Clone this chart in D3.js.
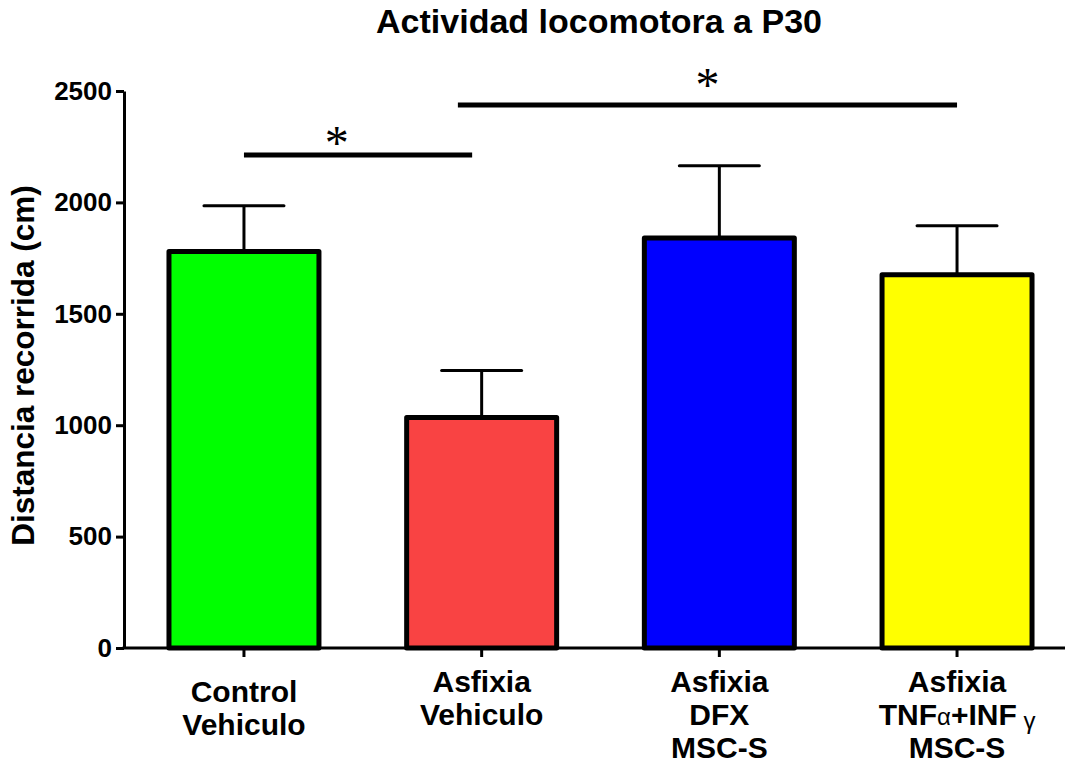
<!DOCTYPE html>
<html>
<head>
<meta charset="utf-8">
<script src="https://cdn.jsdelivr.net/npm/d3@7"></script>
<style>
  body { margin: 0; background: #fff; }
  svg text { font-family: "Liberation Sans", Arial, sans-serif; font-weight: bold; fill: #000; }
  .axis path, .axis line { stroke: #000; stroke-width: 3; }
  .axis text { font-size: 26px; }
</style>
</head>
<body>
<div id="chart"></div>
<script>
// Data
var groups = ["ctrl", "asf", "dfx", "tnf"];
var groupLabels = [
  ["Control", "Vehiculo"],
  ["Asfixia", "Vehiculo"],
  ["Asfixia", "DFX", "MSC-S"],
  ["Asfixia", "TNF\u03b1+INF \u03b3", "MSC-S"]
];
var means = [1780, 1035, 1840, 1675];
var sems = [205, 210, 325, 220];
var barColors = ["#00ff00", "#f94343", "#0000ff", "#ffff00"];
var yTicks = [0, 500, 1000, 1500, 2000, 2500];

// significance bars: from / to / star x in category units, y in cm
var sigFrom = [0, 0.9];
var sigTo = [0.96, 3];
var sigY = [2213, 2437];
var sigStarX = [0.39, 1.95];
var sigStarY = [2300, 2563];

var W = 1065, H = 766;

var svg = d3.select("#chart").append("svg")
  .attr("width", W).attr("height", H);

// Scales
var x = d3.scaleBand()
  .domain(groups)
  .range([125, 1076])
  .paddingInner(0.369)
  .paddingOuter(0.185);

var y = d3.scaleLinear().domain([0, 2500]).range([648, 91]);

// x position in category units (0 = centre of first group)
var xc = d3.scaleLinear()
  .domain([0, 1])
  .range([x(groups[0]) + x.bandwidth() / 2, x(groups[1]) + x.bandwidth() / 2]);

//Bars
var bars = groups.map(function(g, i) { return {g: g, mean: means[i], sem: sems[i], color: barColors[i]}; });

// error bars (drawn first so the bar's outline sits on top)
var err = svg.selectAll("g.err").data(bars).enter().append("g").attr("class", "err");
err.append("line")
  .attr("x1", function(d) { return x(d.g) + x.bandwidth() / 2; })
  .attr("x2", function(d) { return x(d.g) + x.bandwidth() / 2; })
  .attr("y1", function(d) { return y(d.mean); })
  .attr("y2", function(d) { return y(d.mean + d.sem); })
  .attr("stroke", "#000").attr("stroke-width", 3);
err.append("line")
  .attr("x1", function(d) { return x(d.g) + x.bandwidth() / 2 - 40; })
  .attr("x2", function(d) { return x(d.g) + x.bandwidth() / 2 + 40; })
  .attr("y1", function(d) { return y(d.mean + d.sem); })
  .attr("y2", function(d) { return y(d.mean + d.sem); })
  .attr("stroke", "#000").attr("stroke-width", 3).attr("stroke-linecap", "round");

svg.selectAll("rect.bar").data(bars).enter().append("rect")
  .attr("class", "bar")
  .attr("x", function(d) { return x(d.g); })
  .attr("width", x.bandwidth())
  .attr("y", function(d) { return y(d.mean); })
  .attr("height", function(d) { return y(0) - y(d.mean); })
  .attr("fill", function(d) { return d.color; })
  .attr("stroke", "#000")
  .attr("stroke-width", 5)
  .attr("stroke-linejoin", "round");

//Axes
var yAxis = d3.axisLeft(y).tickValues(yTicks).tickFormat(d3.format("d"))
  .tickSize(8).tickPadding(4).tickSizeOuter(0);
svg.append("g")
  .attr("class", "axis y-axis")
  .attr("transform", "translate(124,0)")
  .call(yAxis);

var xAxis = d3.axisBottom(x).tickSize(9).tickSizeOuter(0).tickFormat("");
svg.append("g")
  .attr("class", "axis x-axis")
  .attr("transform", "translate(0,648)")
  .call(xAxis);
// axis line runs from the y axis to the right edge
svg.select(".x-axis path.domain").attr("d", "M" + (124 - 1.5) + ",0H" + W);

// category labels
var lab = svg.selectAll("text.xlab").data(groupLabels).enter().append("text")
  .attr("class", "xlab")
  .attr("text-anchor", "middle")
  .style("font-size", "30px")
  .attr("transform", function(d, i) {
    return "translate(" + (x(groups[i]) + x.bandwidth() / 2) + "," + (i === 0 ? 702 : 692) + ")";
  });

lab.each(function(lines) {
  var t = d3.select(this);
  lines.forEach(function(s, j) {
    var ts = t.append("tspan").attr("x", 0).attr("y", j * 33);
    if (s.indexOf("\u03b1") >= 0) {
      // greek letters set smaller and not bold, as in the original
      var parts = s.split(/(\u03b1| \u03b3)/);
      parts.forEach(function(p) {
        if (p === "") return;
        var sp = ts.append("tspan").text(p);
        if (p === "\u03b1") sp.style("font-size", "24px").style("font-weight", "normal");
        if (p === " \u03b3") sp.style("font-size", "24px").style("font-weight", "normal").attr("dy", 4);
      });
    } else {
      ts.text(s);
    }
  });
});

//Y label
svg.append("text")
  .attr("text-anchor", "middle")
  .style("font-size", "31.5px")
  .attr("transform", "translate(34," + ((y(0) + y(2500)) / 2 - 4) + ") rotate(-90)")
  .text("Distancia recorrida (cm)");

//Title
svg.append("text")
  .attr("x", 599).attr("y", 33)
  .attr("text-anchor", "middle")
  .style("font-size", "34px")
  .text("Actividad locomotora a P30");

//Significance lines and stars
sigY.forEach(function(v, i) {
  svg.append("line")
    .attr("x1", xc(sigFrom[i])).attr("x2", xc(sigTo[i]))
    .attr("y1", y(v)).attr("y2", y(v))
    .attr("stroke", "#000").attr("stroke-width", 5);
  svg.append("text")
    .attr("x", xc(sigStarX[i]))
    .attr("y", y(sigStarY[i]))
    .attr("text-anchor", "middle")
    .attr("dominant-baseline", "central")
    .style("font-family", "'Liberation Serif', 'Times New Roman', serif")
    .style("font-weight", "normal")
    .style("font-size", "48px")
    .attr("dy", "0.15em")
    .text("*");
});
</script>
</body>
</html>
